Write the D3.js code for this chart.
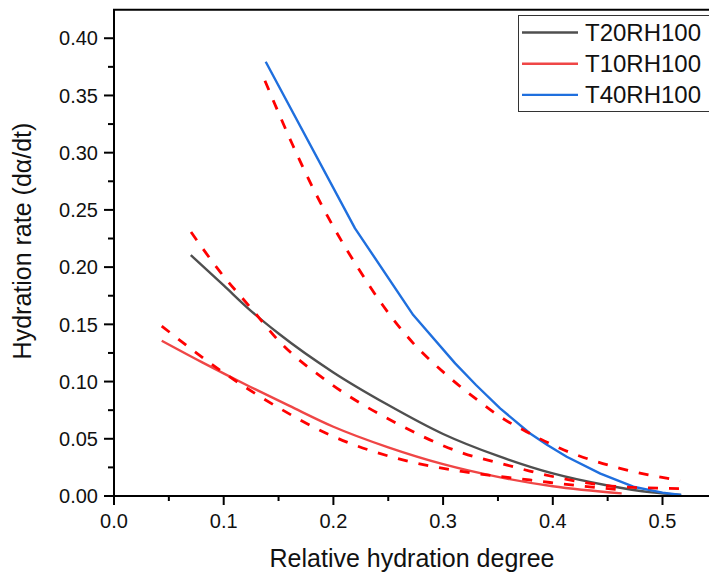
<!DOCTYPE html>
<html><head><meta charset="utf-8">
<script src="https://cdn.jsdelivr.net/npm/d3@7/dist/d3.min.js"></script>
<style>
body{margin:0;background:#fff}
svg{display:block;font-family:"Liberation Sans",Arial,sans-serif}
</style>
</head><body>
<svg id="chart" width="709" height="575"></svg>
<script>
// ---- data ----
const seriesNames = ["T20RH100", "T10RH100", "T40RH100"];

const t20X = [0.070, 0.100, 0.124, 0.150, 0.200, 0.250, 0.300, 0.350, 0.400, 0.450, 0.490, 0.517];
const t20Y = [0.2105, 0.184, 0.1625, 0.142, 0.108, 0.0795, 0.0542, 0.0350, 0.0197, 0.0092, 0.0032, 0.001];

const t10X = [0.0435, 0.080, 0.124, 0.160, 0.200, 0.250, 0.300, 0.350, 0.400, 0.4628];
const t10Y = [0.1357, 0.117, 0.0955, 0.0787, 0.0605, 0.0425, 0.0278, 0.0167, 0.0085, 0.0023];

const t40X = [0.1383, 0.2197, 0.2728, 0.311, 0.330, 0.352, 0.379, 0.395, 0.4127, 0.4434, 0.4734, 0.500, 0.517];
const t40Y = [0.3795, 0.2339, 0.1581, 0.1159, 0.0970, 0.0766, 0.0548, 0.0445, 0.0343, 0.0195, 0.0081, 0.0030, 0.0009];

// fitted (dashed) curves
const fit20X = [0.0702, 0.0966, 0.125, 0.151, 0.197, 0.2577, 0.3185, 0.352, 0.379, 0.4127, 0.4613, 0.516];
const fit20Y = [0.2307, 0.196, 0.164, 0.1348, 0.0985, 0.0635, 0.0373, 0.0286, 0.0218, 0.0145, 0.0081, 0.0065];

const fit10X = [0.0435, 0.0966, 0.151, 0.197, 0.2577, 0.3185, 0.379, 0.3975, 0.4628];
const fit10Y = [0.1485, 0.110, 0.0766, 0.0533, 0.0329, 0.0212, 0.0140, 0.0118, 0.0052];

const fit40X = [0.1376, 0.1629, 0.1808, 0.2008, 0.2227, 0.2455, 0.2729, 0.3033, 0.3352, 0.3519, 0.376, 0.4066, 0.4613, 0.516];
const fit40Y = [0.3628, 0.3067, 0.2702, 0.2339, 0.1989, 0.1660, 0.1334, 0.1057, 0.0810, 0.0693, 0.0562, 0.0417, 0.0242, 0.0135];

const xMajorTicks = [0.0, 0.1, 0.2, 0.3, 0.4, 0.5];
const xMinorTicks = [0.05, 0.15, 0.25, 0.35, 0.45, 0.55];
const yMajorTicks = [0.00, 0.05, 0.10, 0.15, 0.20, 0.25, 0.30, 0.35, 0.40];
const yMinorTicks = [0.025, 0.075, 0.125, 0.175, 0.225, 0.275, 0.325, 0.375];

const xTitle = "Relative hydration degree";
const yTitle = "Hydration rate (dα/dt)";

// ---- styles ----
const colorGray = "#4f4f4f", colorRed = "#ef4646", colorBlue = "#1f6fde", colorFit = "#ff0000";

// ---- layout ----
const svg = d3.select("#chart");
const left = 114, bottom = 496, pxPerUnitX = 1097, pxPerUnitY = 1144.4;
const x = d3.scaleLinear().domain([0, 0.55]).range([left, left + 0.55 * pxPerUnitX]);
const y = d3.scaleLinear().domain([0, 0.425]).range([bottom, bottom - 0.425 * pxPerUnitY]);

const zip = (xs, ys) => xs.map((v, i) => [v, ys[i]]);
const smooth = d3.line().x(d => x(d[0])).y(d => y(d[1])).curve(d3.curveMonotoneX);
const straight = d3.line().x(d => x(d[0])).y(d => y(d[1]));

const plot = svg.append("g");
// solid curves
plot.append("path").attr("d", smooth(zip(t10X, t10Y))).attr("fill", "none").attr("stroke", colorRed).attr("stroke-width", 2.4);
plot.append("path").attr("d", smooth(zip(t20X, t20Y))).attr("fill", "none").attr("stroke", colorGray).attr("stroke-width", 2.4);
plot.append("path").attr("d", straight(zip(t40X, t40Y))).attr("fill", "none").attr("stroke", colorBlue).attr("stroke-width", 2.4).attr("stroke-linejoin", "round");
// dashed fits
[[fit10X, fit10Y], [fit20X, fit20Y], [fit40X, fit40Y]].forEach(([xs, ys]) => {
  plot.append("path").attr("d", smooth(zip(xs, ys))).attr("fill", "none")
    .attr("stroke", colorFit).attr("stroke-width", 2.8).attr("stroke-dasharray", "10,11");
});

// ---- axes ----
const axisG = svg.append("g").attr("stroke", "#000");
const yTop = y.range()[1];
axisG.append("line").attr("x1", left).attr("x2", left).attr("y1", yTop).attr("y2", bottom + 1).attr("stroke-width", 2);
axisG.append("line").attr("x1", left - 1).attr("x2", x.range()[1]).attr("y1", bottom).attr("y2", bottom).attr("stroke-width", 2);
axisG.append("line").attr("x1", left - 1).attr("x2", x.range()[1]).attr("y1", yTop).attr("y2", yTop).attr("stroke-width", 2);

yMajorTicks.forEach(v => axisG.append("line").attr("x1", left - 10).attr("x2", left).attr("y1", y(v)).attr("y2", y(v)).attr("stroke-width", 2));
yMinorTicks.forEach(v => axisG.append("line").attr("x1", left - 6).attr("x2", left).attr("y1", y(v)).attr("y2", y(v)).attr("stroke-width", 2));
xMajorTicks.forEach(v => axisG.append("line").attr("x1", x(v)).attr("x2", x(v)).attr("y1", bottom).attr("y2", bottom + 9).attr("stroke-width", 2));
xMinorTicks.forEach(v => axisG.append("line").attr("x1", x(v)).attr("x2", x(v)).attr("y1", bottom).attr("y2", bottom + 5).attr("stroke-width", 2));

const fmt2 = d3.format(".2f"), fmt1 = d3.format(".1f");
svg.append("g").selectAll("text").data(yMajorTicks).join("text")
  .attr("x", left - 16).attr("y", d => y(d)).attr("dy", "0.36em")
  .attr("text-anchor", "end").attr("font-size", 20).attr("fill", "#111").text(d => fmt2(d));
svg.append("g").selectAll("text").data(xMajorTicks).join("text")
  .attr("x", d => x(d)).attr("y", 528)
  .attr("text-anchor", "middle").attr("font-size", 20).attr("fill", "#111").text(d => fmt1(d));

svg.append("text").attr("x", 412).attr("y", 567).attr("text-anchor", "middle")
  .attr("font-size", 25).attr("fill", "#111").text(xTitle);
svg.append("text").attr("transform", "translate(31,241) rotate(-90)").attr("text-anchor", "middle")
  .attr("font-size", 25).attr("fill", "#111").text(yTitle);

// ---- legend ----
const legendColors = [colorGray, colorRed, colorBlue];
const leg = svg.append("g");
leg.append("rect").attr("x", 518.5).attr("y", 15.5).attr("width", 220).attr("height", 96)
  .attr("fill", "#fff").attr("stroke", "#333").attr("stroke-width", 1);
seriesNames.forEach((name, i) => {
  const cy = 32.5 + i * 31.2;
  leg.append("line").attr("x1", 522).attr("x2", 578).attr("y1", cy).attr("y2", cy)
    .attr("stroke", legendColors[i]).attr("stroke-width", 2.4);
  leg.append("text").attr("x", 585).attr("y", cy + 8).attr("font-size", 24).attr("fill", "#111").text(name);
});
</script>
</body></html>
